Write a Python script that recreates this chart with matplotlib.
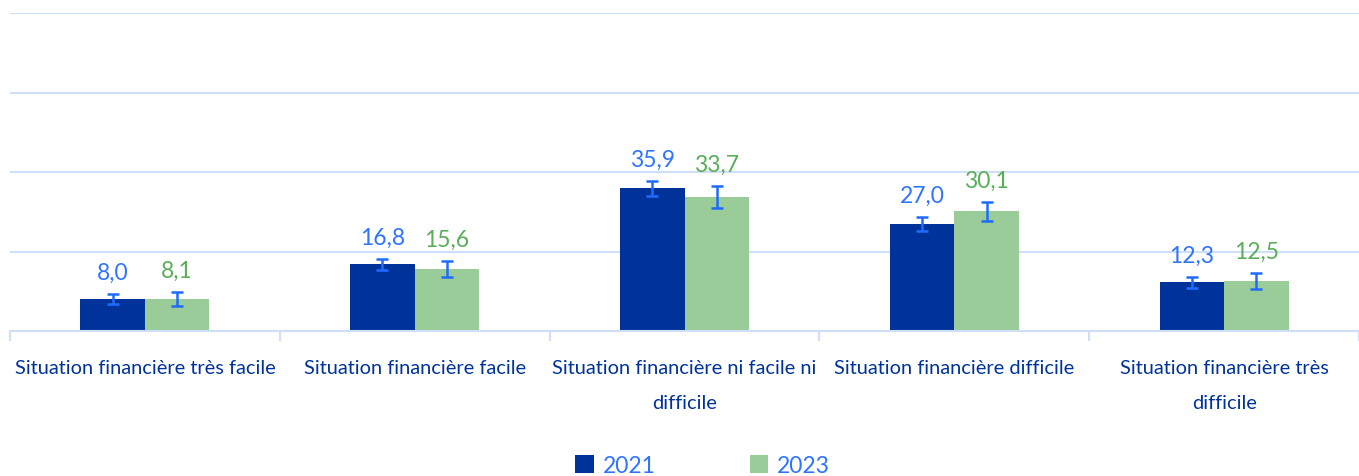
import matplotlib.pyplot as plt
import numpy as np

categories = ['Situation financière très facile', 'Situation financière facile',
              'Situation financière ni facile ni\ndifficile', 'Situation financière difficile',
              'Situation financière très\ndifficile']
years = ['2021', '2023']
values_2021 = [8.0, 16.8, 35.9, 27.0, 12.3]
values_2023 = [8.1, 15.6, 33.7, 30.1, 12.5]
err_2021 = [1.3, 1.4, 1.9, 1.8, 1.4]
err_2023 = [1.8, 2.0, 2.7, 2.5, 2.0]

plt.rcParams['font.family'] = ['Lato', 'DejaVu Sans']

bar_colors = ['#003399', '#99cc99']
label_colors = ['#2f74ff', '#5aae5a']
grid_color = '#cfdff7'
err_color = '#1f6bff'

fig = plt.figure(figsize=(13.59, 4.77), dpi=100)
ax = fig.add_axes([0.0074, 0.304, 0.9926, 0.666])

x = np.arange(len(categories))
w = 0.239
series = [(values_2021, err_2021), (values_2023, err_2023)]
for i, (vals, errs) in enumerate(series):
    pos = x + (i - 0.5) * w
    ax.bar(pos, vals, width=w, color=bar_colors[i], label=years[i], zorder=2)
    ax.errorbar(pos, vals, yerr=errs, fmt='none', ecolor=err_color,
                elinewidth=1.8, capsize=4.5, capthick=1.8, zorder=3)
    for p, v, e in zip(pos, vals, errs):
        ax.annotate(f'{v:.1f}'.replace('.', ','), (p, v + e), xytext=(0, 8),
                    textcoords='offset points', ha='center', va='bottom',
                    fontsize=16.5, color=label_colors[i])

ax.set_xlim(-0.5, len(categories) - 0.5)
ax.set_ylim(0, 80)
ax.set_yticks([0, 20, 40, 60, 80])
ax.yaxis.grid(True, color=grid_color, linewidth=1.5, zorder=0)
ax.tick_params(axis='y', left=False, labelleft=False)

ax.set_xticks(x)
ax.set_xticklabels(categories, fontsize=14.4, color='#003399', linespacing=2.3,
                   va='top')
ax.tick_params(axis='x', which='major', length=0, pad=20)
ax.set_xticks(np.arange(len(categories) + 1) - 0.5, minor=True)
ax.tick_params(axis='x', which='minor', length=7, color=grid_color, width=1.5)

for s in ['top', 'right', 'left']:
    ax.spines[s].set_visible(False)
ax.spines['bottom'].set_color(grid_color)
ax.spines['bottom'].set_linewidth(1.5)

leg = fig.legend(loc='center', bbox_to_anchor=(0.517, 0.022), ncol=2, frameon=False,
                 fontsize=16.5, handlelength=0.8, handleheight=0.8, columnspacing=4.1,
                 handletextpad=0.4)
for t in leg.get_texts():
    t.set_color('#2f74ff')

fig.savefig('out.png', dpi=100)
